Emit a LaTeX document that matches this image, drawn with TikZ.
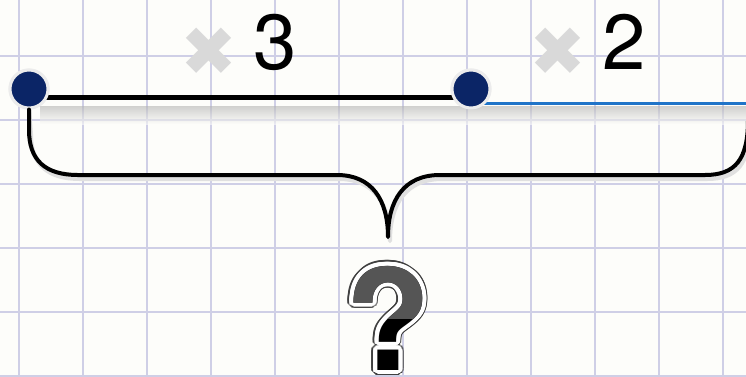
\documentclass[tikz,border=0pt]{standalone}
\usepackage{fontspec}
\setmainfont{TeX Gyre Heros}
\newfontfamily\symfont{DejaVu Sans}
\usepackage{tikz}
\usetikzlibrary{positioning, calc}
\definecolor{paper}{HTML}{FDFDFA}
\definecolor{gridline}{HTML}{CFCFE6}
\definecolor{navy}{HTML}{0B2566}
\definecolor{lineblue}{HTML}{1F74C8}
\definecolor{timesgray}{HTML}{D9D9D9}
\definecolor{qgray}{HTML}{555555}

\begin{document}
\begin{tikzpicture}[x=1pt, y=-1pt,
    dot/.style={circle, fill=navy, draw=white!85!gray, line width=3pt,
                minimum size=38pt, inner sep=0pt},
    factor/.style={font=\fontsize{78}{80}\selectfont, inner sep=0pt},
    times/.style={font=\symfont\bfseries\fontsize{68}{68}\selectfont,
                  text=timesgray, inner sep=0pt},
    brace/.style={line width=4pt, line cap=round, line join=round},
    qmark/.style={font=\bfseries\fontsize{140}{140}\selectfont, inner sep=0pt}
]
    \useasboundingbox (0,0) rectangle (746,376);
    \begin{scope}
    \clip (0,0) rectangle (746,376);
    \fill[paper] (0,0) rectangle (746,376);

    % grid paper
    \foreach \gx in {19,83,...,723}
        \draw[gridline, line width=1.3pt] (\gx,0) -- (\gx,376);
    \foreach \gy in {56,120,...,376}
        \draw[gridline, line width=1.3pt] (0,\gy) -- (746,\gy);

    % points on the line
    \node[dot] (left) at (29,89) {};
    \node[dot] (mid) at (471,89) {};
    \coordinate (end) at (760,103);

    \shade[top color=black!30, bottom color=paper, opacity=0.6]
        (40,106) rectangle (746,124);
    \draw[line width=5pt] ([yshift=-8pt]left.center) -- ([yshift=-8pt]mid.center);
    \draw[lineblue, line width=3pt] ([yshift=-14pt]mid.center) -- (end);
    \node[dot] at (left) {};
    \node[dot] at (mid) {};

    % factors
    \node[factor] (three) at (275,42) {3};
    \node[times, left=15pt of three, yshift=-10pt] (x3) {✖};
    \node[factor] (two) at (624,42) {2};
    \node[times, left=15pt of two, yshift=-10pt] (x2) {✖};

    % brace
    \foreach \c/\s in {black!12/4, black/0}
        \draw[brace, \c, yshift=-\s pt, xshift=\s pt/2]
            (left.south) -- (29,130) .. controls (29,160) and (45,175) .. (78,175)
            -- (337,175) .. controls (372,175) and (388,200) .. (388,237)
            .. controls (388,200) and (404,175) .. (440,175)
            -- (705,175) .. controls (735,175) and (748,160) .. (748,120);

    % question mark
    \coordinate (q) at (388,318);
    \foreach \a in {0,15,...,345}
        \node[qmark, text=black!75] (qo\a) at ($(q)+(\a:5.5)$) {?};
    \foreach \a in {0,15,...,345}
        \node[qmark, text=white] (qw\a) at ($(q)+(\a:4)$) {?};
    \node[qmark] (qb) at (q) {?};
    \begin{scope}
        \clip (300,240) rectangle (480,318);
        \node[qmark, text=qgray] (qt) at (q) {?};
    \end{scope}
    \end{scope}
\end{tikzpicture}
\end{document}
